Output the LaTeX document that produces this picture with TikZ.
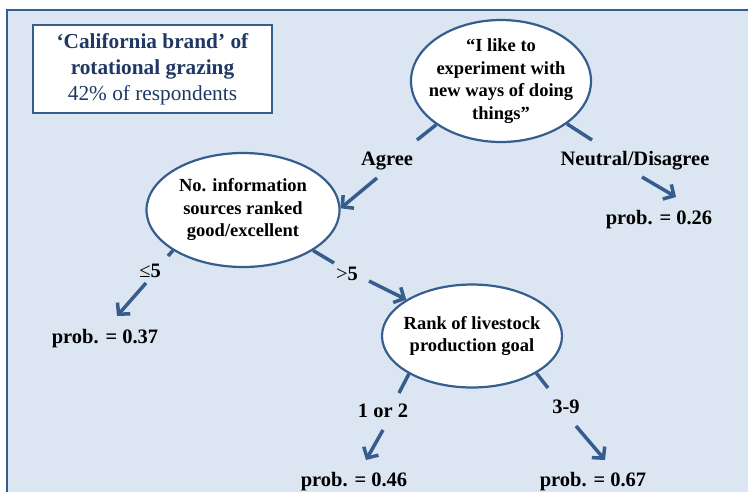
\documentclass[tikz,border=0pt]{standalone}
\usepackage{fontspec}
\setmainfont{Liberation Serif}
\usetikzlibrary{shapes.geometric,arrows.meta}
\definecolor{framefill}{HTML}{DCE6F2}
\definecolor{navy}{HTML}{355D8D}
\definecolor{titletext}{HTML}{1F3864}
\begin{document}
\begin{tikzpicture}[x=1pt,y=-1pt,
  oval/.style={ellipse, draw=navy, line width=2.2pt, fill=white, inner sep=-25pt, align=center,
    font=\fontsize{18.5}{22.5}\selectfont\bfseries},
  stub/.style={draw=navy, line width=3.5pt},
  arr/.style={draw=navy, line width=3.5pt, -{Straight Barb[length=8pt,width=17pt]}},
  lbl/.style={font=\fontsize{20.5}{24}\selectfont\bfseries, inner sep=0pt, anchor=base},
]
\useasboundingbox (0,0) rectangle (748,491);
\begin{scope}
\clip (0,0) rectangle (748,491);
\draw[navy, line width=2pt, fill=framefill] (7,10) rectangle (770,520);
\end{scope}

\node[draw=navy, line width=1.8pt, fill=white, minimum width=239pt, minimum height=88pt,
  inner sep=0pt, align=center, text=titletext, font=\fontsize{21.3}{26}\selectfont]
  (title) at (152.5,69) {\textbf{‘California brand’ of}\\ \textbf{rotational grazing}\\ 42\% of respondents};

\node[oval, minimum width=180pt, minimum height=122pt] (top) at (501,81)
  {“I like to\\ experiment with\\ new ways of doing\\ things”};
\node[oval, minimum width=193pt, minimum height=114pt] (info) at (243,210)
  {No. information\\ sources ranked\\ good/excellent};
\node[oval, minimum width=180pt, minimum height=103pt] (rank) at (472,336)
  {Rank of livestock\\ production goal};

% labels
\node[lbl] (agree) at (387,165) {Agree};
\node[lbl] (neutral) at (635,165) {Neutral/Disagree};
\node[lbl] (le5) at (150,277) {{\mdseries ≤}5};
\node[lbl] (gt5) at (347,280) {{\mdseries >}5};
\node[lbl] (r12) at (383,417) {1 or 2};
\node[lbl] (r39) at (566,413) {3-9};

\node[lbl] (p26) at (659,224) {prob. = 0.26};
\node[lbl] (p37) at (105,343) {prob. = 0.37};
\node[lbl] (p46) at (354,486) {prob. = 0.46};
\node[lbl] (p67) at (593,486) {prob. = 0.67};

% coordinates
\coordinate (sA) at (417,140);
\coordinate (sN) at (592,140);
\coordinate (sL) at (168,256);
\coordinate (sG) at (334,263);
\coordinate (s12) at (399,393);
\coordinate (s39) at (548,388);

\coordinate (aA) at (377,178);
\coordinate (aN) at (642,177);
\coordinate (eN) at (676,197);
\coordinate (aL) at (146,283);
\coordinate (eL) at (117,316);
\coordinate (aG) at (369,281);
\coordinate (a12) at (383,430);
\coordinate (e12) at (366,460);
\coordinate (a39) at (576,426);
\coordinate (e39) at (605,460);

% stubs
\draw[stub] (top.214.5) -- (sA);
\draw[stub] (top.-33.7) -- (sN);
\draw[stub] (info.210.1) -- (sL);
\draw[stub] (info.-30.8) -- (sG);
\draw[stub] (rank.211.4) -- (s12);
\draw[stub] (rank.-30.4) -- (s39);

% arrows
\draw[arr] (aA) -- (info.1);
\draw[arr] (aN) -- (eN);
\draw[arr] (aL) -- (eL);
\draw[arr] (aG) -- (rank.151);
\draw[arr] (a12) -- (e12);
\draw[arr] (a39) -- (e39);
\end{tikzpicture}
\end{document}
